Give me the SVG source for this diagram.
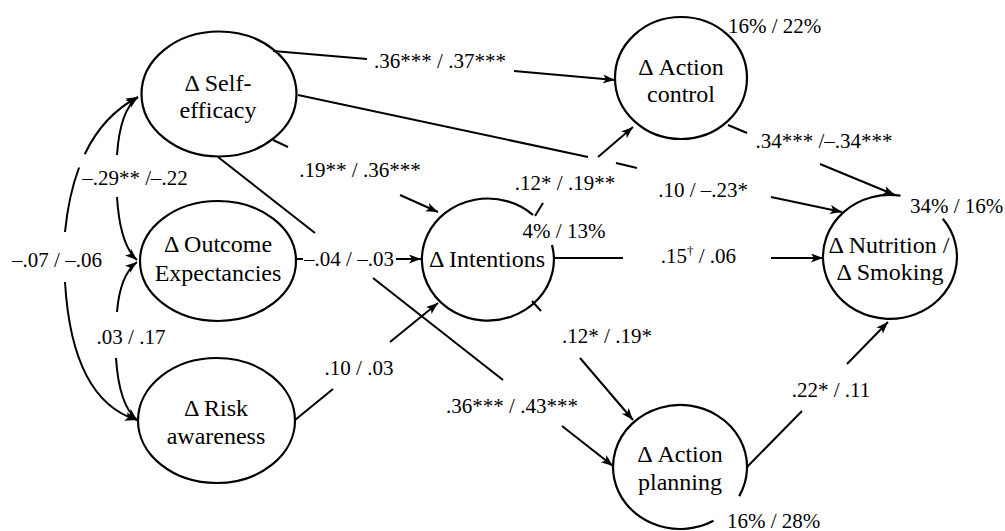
<svg xmlns="http://www.w3.org/2000/svg" width="1005" height="531" viewBox="0 0 1005 531" font-family="Liberation Serif, Times New Roman, serif">
<style>
.node{fill:none;stroke:#000;stroke-width:2.2}
.nt{font-size:24px;fill:#000;text-anchor:middle}
.ln{fill:none;stroke:#000;stroke-width:2}
.arr{marker-end:url(#ah)}
.lb{font-size:21px;fill:#000}
.m{text-anchor:middle}
.e{text-anchor:end}
</style>
<defs>
<marker id="ah" markerUnits="userSpaceOnUse" markerWidth="13" markerHeight="10" refX="12" refY="4.5" orient="auto">
<path d="M0,0 L12,4.5 L0,9 L3,4.5 z" fill="#000"/>
</marker>
</defs>
<rect width="1005" height="531" fill="#fff"/>

<g id="connectors">
<path class="ln arr" d="M84.7,154.2 Q103.35,115.15 138,97"/>
<path class="ln" d="M79.1,167.5 Q68.6,195.3 65,232"/>
<path class="ln arr" d="M65,282 Q72,400 137,420"/>
<path class="ln arr" d="M117,155 Q120,110 138,97"/>
<path class="ln arr" d="M117,197 Q120,245 137,260"/>
<path class="ln arr" d="M117,312 Q120,275 137,262"/>
<path class="ln arr" d="M116,358 Q119,405 137,420"/>
<path class="ln" d="M273,51 L367,59"/>
<path class="ln arr" d="M514,71 L615,80"/>
<path class="ln" d="M298,95 L588,157"/>
<path class="ln" d="M616,163 L637,168"/>
<path class="ln arr" d="M771,197 L842,212"/>
<path class="ln" d="M273,140 L288,147"/>
<path class="ln arr" d="M400,195 L438,212"/>
<path class="ln" d="M218,157 L315,233"/>
<path class="ln" d="M373,278 L503,380"/>
<path class="ln arr" d="M562,426 L613,466"/>
<path class="ln" d="M295,420 L333,389"/>
<path class="ln arr" d="M390,342 L438,303"/>
<path class="ln" d="M296,259 L303,259"/>
<path class="ln arr" d="M396,259 L421,259"/>
<path class="ln" d="M553,258 L623,258"/>
<path class="ln arr" d="M771,258 L823,258"/>
<path class="ln" d="M728,125 L747,133"/>
<path class="ln arr" d="M820,164 L895,195"/>
<path class="ln" d="M535,216 L543,203"/>
<path class="ln arr" d="M598,157 L633,127"/>
<path class="ln" d="M532,301 L541,311"/>
<path class="ln arr" d="M580,358 L633,420"/>
<path class="ln" d="M747,467 L802,411"/>
<path class="ln arr" d="M847,364 L888,322"/>

<text class="lb m" x="440" y="68">.36*** / .37***</text>
<text class="lb m" x="135" y="185">–.29** /–.22</text>
<text class="lb m" x="360" y="177">.19** / .36***</text>
<text class="lb m" x="57" y="267">–.07 / –.06</text>
<text class="lb m" x="349" y="266">–.04 / –.03</text>
<text class="lb m" x="131" y="344">.03 / .17</text>
<text class="lb m" x="359" y="375">.10 / .03</text>
<text class="lb m" x="565" y="190">.12* / .19**</text>
<text class="lb m" x="564" y="238">4% / 13%</text>
<text class="lb e" x="736" y="263">.15<tspan font-size="13" dy="-8">†</tspan><tspan dy="8"> / .06</tspan></text>
<text class="lb e" x="748" y="197">.10 / –.23*</text>
<text class="lb m" x="824" y="148">.34*** /–.34***</text>
<text class="lb m" x="607" y="343">.12* / .19*</text>
<text class="lb m" x="512" y="413">.36*** / .43***</text>
<text class="lb m" x="831" y="397">.22* / .11</text>
<text class="lb" x="728" y="33">16% / 22%</text>
<text class="lb" x="910" y="213">34% / 16%</text>
<text class="lb" x="727" y="528">16% / 28%</text>
</g>

<g id="self-efficacy">
<ellipse class="node" cx="219" cy="94" rx="77.5" ry="62.5"/>
<text class="nt" x="218" y="91">Δ Self-</text>
<text class="nt" x="218" y="118">efficacy</text>
</g>
<g id="outcome-expectancies">
<ellipse class="node" cx="218" cy="261" rx="78" ry="60"/>
<text class="nt" x="218" y="252">Δ Outcome</text>
<text class="nt" x="218" y="281">Expectancies</text>
</g>
<g id="risk-awareness">
<ellipse class="node" cx="216.5" cy="420.5" rx="78.5" ry="62.5"/>
<text class="nt" x="216" y="416">Δ Risk</text>
<text class="nt" x="216" y="444">awareness</text>
</g>
<g id="intentions">
<path class="node" d="M552,245 A66 61 0 1 1 533,215"/>
<text class="nt" x="487" y="267">Δ Intentions</text>
</g>
<g id="action-control">
<ellipse class="node" cx="681" cy="78" rx="66" ry="61"/>
<text class="nt" x="681" y="75">Δ Action</text>
<text class="nt" x="681" y="102">control</text>
</g>
<g id="action-planning">
<path class="node" d="M713.5,520.7 A67 62 0 1 1 739.2,496.1"/>
<text class="nt" x="680" y="462">Δ Action</text>
<text class="nt" x="680" y="490">planning</text>
</g>
<g id="nutrition-smoking">
<path class="node" d="M942.8,218.8 A67 62 0 1 1 900.5,195.7"/>
<text class="nt" x="889" y="253">Δ Nutrition /</text>
<text class="nt" x="890" y="280">Δ Smoking</text>
</g>
</svg>
